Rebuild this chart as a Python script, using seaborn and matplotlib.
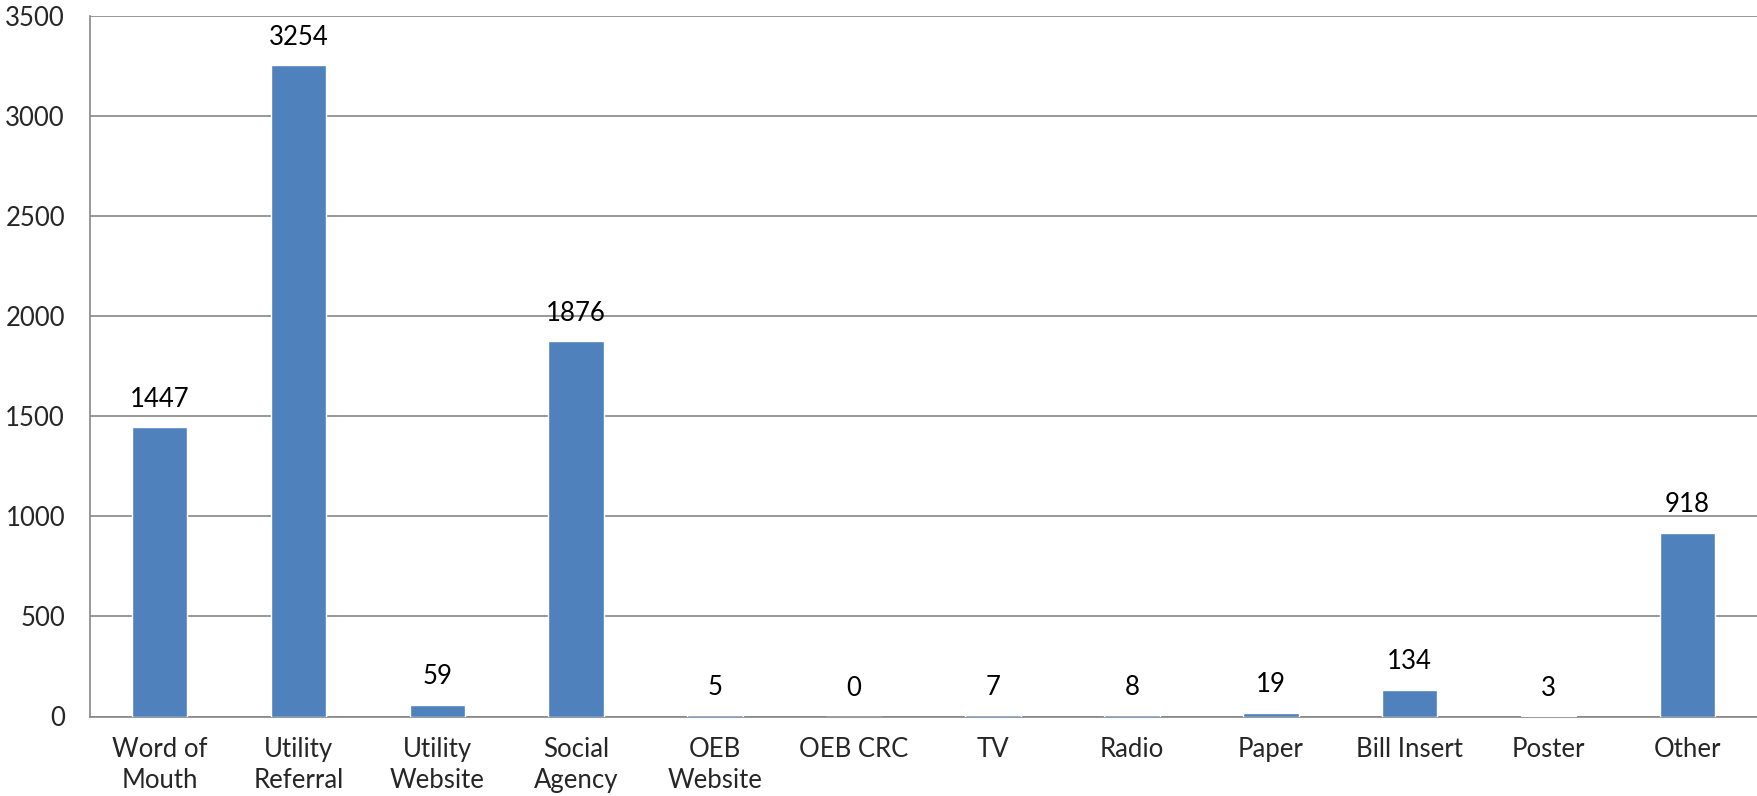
import seaborn as sns
import pandas as pd
import matplotlib.pyplot as plt

# referral sources and counts
sources = ['Word of\nMouth', 'Utility\nReferral', 'Utility\nWebsite', 'Social\nAgency',
           'OEB\nWebsite', 'OEB CRC', 'TV', 'Radio', 'Paper', 'Bill Insert', 'Poster', 'Other']
counts = [1447, 3254, 59, 1876, 5, 0, 7, 8, 19, 134, 3, 918]
y_ticks = [0, 500, 1000, 1500, 2000, 2500, 3000, 3500]

df = pd.DataFrame({'source': sources, 'count': counts})

sns.set_theme(style='white')
plt.rcParams['font.family'] = ['Lato', 'DejaVu Sans']

fig = plt.figure(figsize=(17.58, 7.96), dpi=100)
ax = fig.add_axes([90 / 1758, 1 - 716.5 / 796, 1667 / 1758, 700.5 / 796])

sns.barplot(data=df, x='source', y='count', color='#4F81BD', saturation=1,
            width=0.4, ax=ax, zorder=3)

for i, v in enumerate(counts):
    ax.annotate(str(v), (i, v), xytext=(0, 11), textcoords='offset points',
                ha='center', va='bottom', fontsize=18.5, color='black')

ax.set_ylim(0, 3500)
ax.set_xlim(-0.5, len(sources) - 0.5)
ax.set_yticks(y_ticks)
ax.set_xticks([x - 0.5 for x in range(len(sources) + 1)], minor=True)
ax.tick_params(axis='x', which='major', length=0, labelsize=18.5, pad=15)
ax.tick_params(axis='x', which='minor', length=7, width=1.2, color='#868686', direction='out')
ax.tick_params(axis='y', length=8, width=1.2, color='#868686', labelsize=18.5, pad=10,
               direction='out')
ax.yaxis.grid(True, color='#868686', linewidth=1.2, zorder=0)
ax.set_axisbelow(True)
for s in ['top', 'right']:
    ax.spines[s].set_visible(False)
for s in ['left', 'bottom']:
    ax.spines[s].set_color('#868686')
    ax.spines[s].set_linewidth(1.2)
ax.set_xlabel('')
ax.set_ylabel('')
for lbl in ax.get_xticklabels():
    lbl.set_linespacing(1.3)

fig.savefig('out.png', dpi=100)
